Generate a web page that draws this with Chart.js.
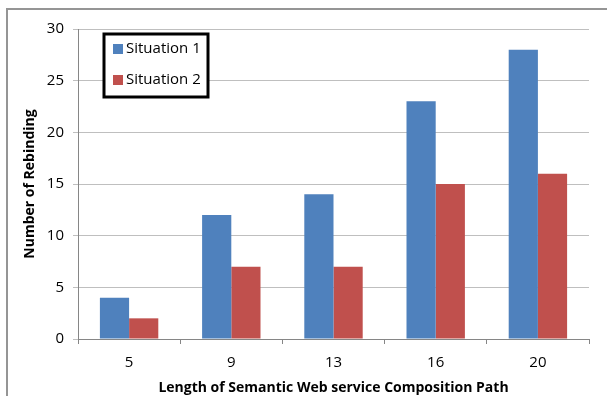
<!DOCTYPE html>
<html>
<head>
<meta charset="utf-8">
<script src="https://cdn.jsdelivr.net/npm/chart.js@4"></script>
<style>
  html, body { margin: 0; padding: 0; background: #fff; overflow: hidden; }
  #wrap { position: relative; width: 607px; height: 396px; }
  #frame { position: absolute; left: 6px; top: 8px; width: 700px; height: 500px;
           border: 2px solid #959595; box-sizing: border-box; }
  canvas { position: absolute; left: 0; top: 0; }
</style>
</head>
<body>
<div id="wrap">
  <div id="frame"></div>
  <canvas id="c" width="607" height="396"></canvas>
</div>
<script>
const pathLengths = ['5', '9', '13', '16', '20'];
const situation1 = [4, 12, 14, 23, 28];
const situation2 = [2, 7, 7, 15, 16];
const seriesNames = ['Situation 1', 'Situation 2'];
const seriesColors = ['#4F81BD', '#C0504D'];
const yTicks = [0, 5, 10, 15, 20, 25, 30];

const FONT = "'Open Sans', 'Noto Sans', sans-serif";

// Boxed legend drawn inside the plot area, upper left
const boxedLegend = {
  id: 'boxedLegend',
  afterDraw(chart) {
    const ctx = chart.ctx;
    const x = 104, y = 34, w = 104, h = 63;
    ctx.save();
    ctx.fillStyle = '#fff';
    ctx.fillRect(x, y, w, h);
    ctx.lineWidth = 3;
    ctx.strokeStyle = '#000';
    ctx.strokeRect(x, y, w, h);
    ctx.font = '15px ' + FONT;
    ctx.textBaseline = 'middle';
    chart.data.datasets.forEach((ds, i) => {
      const cy = y + 15 + i * 31;
      ctx.fillStyle = ds.backgroundColor;
      ctx.fillRect(x + 9, cy - 5, 10, 10);
      ctx.fillStyle = '#000';
      ctx.fillText(ds.label, x + 22, cy);
    });
    ctx.restore();
  }
};

new Chart(document.getElementById('c'), {
  type: 'bar',
  data: {
    labels: pathLengths,
    datasets: [
      { label: seriesNames[0], data: situation1, backgroundColor: seriesColors[0] },
      { label: seriesNames[1], data: situation2, backgroundColor: seriesColors[1] }
    ]
  },
  options: {
    responsive: false,
    animation: false,
    devicePixelRatio: 1,
    layout: { padding: { left: 0, right: 18, top: 29, bottom: 0 } },
    datasets: { bar: { categoryPercentage: 2 / 3.5, barPercentage: 1 } },
    plugins: { legend: { display: false }, tooltip: { enabled: false } },
    scales: {
      x: {
        afterFit(s) { s.height = 57; },
        grid: { drawOnChartArea: false, drawTicks: true, tickLength: 5, color: '#868686', offset: true },
        border: { color: '#868686', width: 1 },
        ticks: { color: '#000', font: { family: FONT, size: 15 }, padding: 10 },
        title: { display: true, text: 'Length of Semantic Web service Composition Path',
                 color: '#000', font: { family: FONT, size: 14, weight: 'bold' }, padding: { top: 2, bottom: 0 } }
      },
      y: {
        min: 0, max: 30,
        afterFit(s) { s.width = 78; },
        afterBuildTicks(s) { s.ticks = yTicks.map(v => ({ value: v })); },
        grid: { color: '#BFBFBF', tickLength: 5, drawTicks: true },
        border: { color: '#868686', width: 1 },
        ticks: { color: '#000', font: { family: FONT, size: 15 }, padding: 9 },
        title: { display: true, text: 'Number of Rebinding',
                 color: '#000', font: { family: FONT, size: 14, weight: 'bold' }, padding: { top: 22, bottom: 4 } }
      }
    }
  },
  plugins: [boxedLegend]
});
</script>
</body>
</html>
